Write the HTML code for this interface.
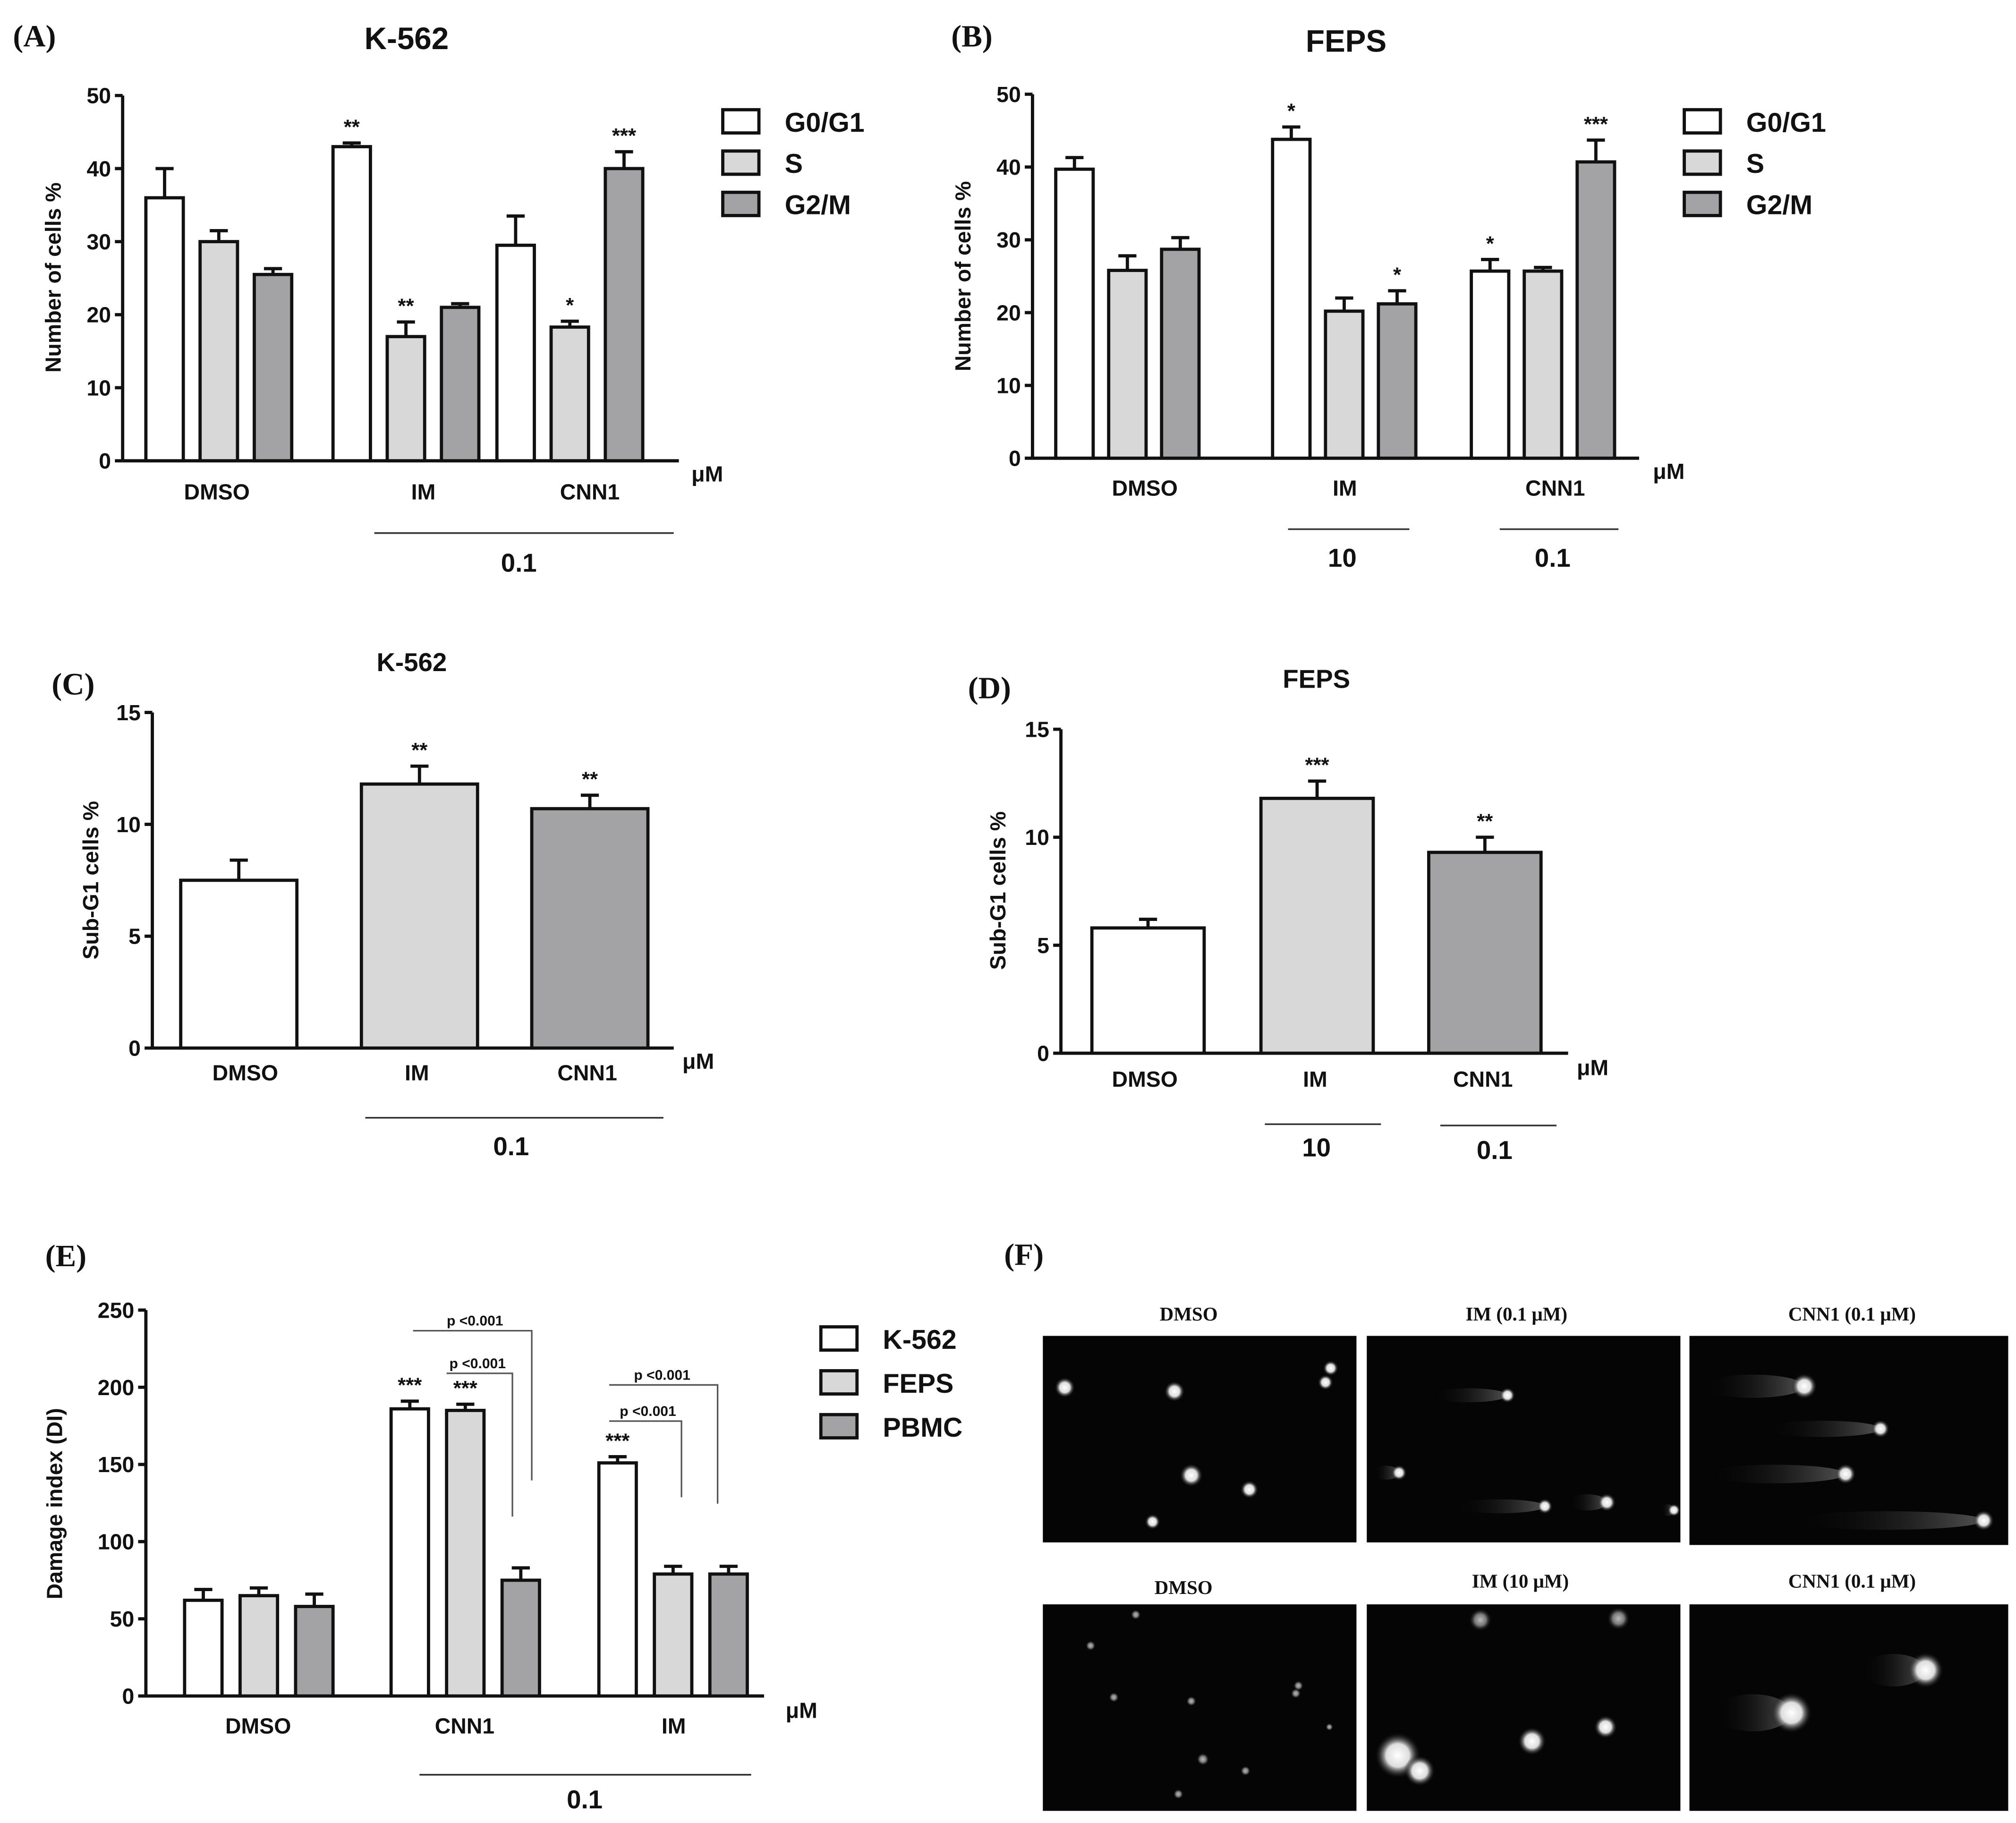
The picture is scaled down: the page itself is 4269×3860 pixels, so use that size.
<!DOCTYPE html>
<html><head><meta charset="utf-8"><style>
html,body{margin:0;padding:0;background:#fff;}
svg{display:block;}
text{font-family:"Liberation Sans",Arial,sans-serif;font-weight:bold;fill:#111;}
.serif{font-family:"Liberation Serif",serif;}
</style></head><body>
<svg id="fig" xmlns="http://www.w3.org/2000/svg" width="4269" height="3860" viewBox="0 0 1562 1412.4">
<defs>
<radialGradient id="dot"><stop offset="0" stop-color="#fff"/><stop offset="0.5" stop-color="#ddd"/><stop offset="1" stop-color="#000" stop-opacity="0"/></radialGradient>
<radialGradient id="dotdim"><stop offset="0" stop-color="#bbb"/><stop offset="0.5" stop-color="#777"/><stop offset="1" stop-color="#000" stop-opacity="0"/></radialGradient>
<linearGradient id="tail" x1="0" x2="1"><stop offset="0" stop-color="#000" stop-opacity="0"/><stop offset="1" stop-color="#666" stop-opacity="0.8"/></linearGradient>
</defs>
<g id="root"></g>
</svg>
<script>
// ---------- data ----------
const groupsA = ["DMSO","IM","CNN1"];
const seriesNames = ["G0/G1","S","G2/M"];
const valsA = [[36,30,25.5],[43,17,21],[29.5,18.3,40]];
const errA  = [[4,1.5,0.8],[0.5,2,0.5],[4,0.8,2.3]];
const starsA = [["","",""],["**","**",""],["","*","***"]];
const ticksAB = [0,10,20,30,40,50];

const groupsB = ["DMSO","IM","CNN1"];
const valsB = [[39.7,25.8,28.7],[43.8,20.2,21.2],[25.7,25.7,40.7]];
const errB  = [[1.6,2,1.6],[1.7,1.8,1.8],[1.6,0.5,3]];
const starsB = [["","",""],["*","","*"],["*","","***"]];

const catsC = ["DMSO","IM","CNN1"];
const valsC = [7.5,11.8,10.7];
const errC  = [0.9,0.8,0.6];
const starsC = ["","**","**"];
const ticksCD = [0,5,10,15];

const catsD = ["DMSO","IM","CNN1"];
const valsD = [5.8,11.8,9.3];
const errD  = [0.4,0.8,0.7];
const starsD = ["","***","**"];

const groupsE = ["DMSO","CNN1","IM"];
const seriesE = ["K-562","FEPS","PBMC"];
const valsE = [[62,65,58],[186,185,75],[151,79,79]];
const errE  = [[7,5,8],[5,4,8],[4,5,5]];
const starsE = [["","",""],["***","***",""],["***","",""]];
const ticksE = [0,50,100,150,200,250];

const fills = ["#ffffff","#d8d8d8","#a3a3a6"];
const NS="http://www.w3.org/2000/svg";
const root=document.getElementById('root');
function el(tag,attrs,parent,txt){const e=document.createElementNS(NS,tag);for(const k in attrs)e.setAttribute(k,attrs[k]);if(txt!==undefined)e.textContent=txt;(parent||root).appendChild(e);return e;}

function axis(g,x0,y0,yTop,xEnd,ticks,maxV,fs){
  const ys=v=>y0-(v/maxV)*(y0-yTop);
  const ax=el('line',{x1:x0,y1:y0,x2:x0,y2:yTop,stroke:'#111','stroke-width':2.5},g);
  
  
  const bx=el('line',{x1:x0,y1:y0,x2:xEnd,y2:y0,stroke:'#111','stroke-width':2.5},g);
  
  
  ticks.forEach(t=>{
    el('line',{x1:x0-6,y1:ys(t),x2:x0,y2:ys(t),stroke:'#111','stroke-width':2.5},g);
    const tl=el('text',{x:x0-9,y:ys(t)+6,'font-size':17,'text-anchor':'end'},g,String(t));
    
    
  });
  return ys;
}
function bar(g,x,w,v,e,ys,fill,star,name){
  const y0=ys(0),yt=ys(v),ye=ys(v+e);
  el('line',{x1:x+w/2,y1:yt,x2:x+w/2,y2:ye,stroke:'#111','stroke-width':2.5},g);
  el('line',{x1:x+w/2-7,y1:ye,x2:x+w/2+7,y2:ye,stroke:'#111','stroke-width':2.5},g);
  const r=el('rect',{x:x,y:yt,width:w,height:y0-yt,fill:fill,stroke:'#111','stroke-width':2.5},g);
  
  
  if(star){const s=el('text',{x:x+w/2,y:ye-7,'font-size':16,'font-weight':'normal','text-anchor':'middle'},g,star);
    
    }
}
function txt(x,y,s,fs,name,anchor,cls){const t=el('text',{x:x,y:y,'font-size':fs,'text-anchor':anchor||'middle'},root,s);
  if(cls)t.setAttribute('class',cls);
  
  return t;}
function hline(x1,x2,y){el('line',{x1:x1,y1:y,x2:x2,y2:y,stroke:'#333','stroke-width':1.3});}
function ytitle(x,y,s){const t=el('text',{x:0,y:0,'font-size':17,'text-anchor':'middle',transform:`translate(${x},${y}) rotate(-90)`},root,s);
  
  }
function legend(x,y0,dy,names){names.forEach((n,i)=>{
  const r=el('rect',{x:x,y:y0+i*dy,width:28,height:18,fill:fills[i],stroke:'#111','stroke-width':2.5});
  
  
  const t=el('text',{x:x+48,y:y0+i*dy+17,'font-size':21,'font-weight':'normal'},root,n);
  
  });}

function grouped(g,x0,y0,yTop,xEnd,ticks,maxV,groups,vals,errs,stars,starts,w,gap){
  const ys=axis(g,x0,y0,yTop,xEnd,ticks,maxV);
  groups.forEach((gn,i)=>vals[i].forEach((v,j)=>bar(g,starts[i]+j*gap,w,v,errs[i][j],ys,fills[j],stars[i][j],'bar-'+gn.toLowerCase()+'-'+j)));
}

// Panel A
let g=el('g',{});
grouped(g,95,357,74,526,ticksAB,50,groupsA,valsA,errA,starsA,[113,258,385],29,42);
txt(10,36,"(A)",24,'panel-label-a','start','serif');
txt(315,38,"K-562",24,'chart-title-a');
ytitle(47,215,"Number of cells  %");
[168,328,457].forEach((x,i)=>txt(x,387,groupsA[i],17,'x-category-label'));
txt(548,373,"μM",17,'unit-label');
hline(290,522,413);txt(402,443,"0.1",20,'dose-label');
legend(560,85,32,seriesNames);

// Panel B
g=el('g',{});
grouped(g,800,355,73,1270,ticksAB,50,groupsB,valsB,errB,starsB,[818,986,1140],29,41);
txt(737,36,"(B)",24,'panel-label-b','start','serif');
txt(1043,40,"FEPS",24,'chart-title-b');
ytitle(752,214,"Number of cells  %");
[887,1042,1205].forEach((x,i)=>txt(x,384,groupsB[i],17,'x-category-label'));
txt(1293,371,"μM",17,'unit-label');
hline(998,1092,410);txt(1040,439,"10",20,'dose-label');
hline(1162,1254,410);txt(1203,439,"0.1",20,'dose-label');
legend(1305,85,32,seriesNames);

// Panel C
g=el('g',{});
let ys=axis(g,118,812,552,522,ticksCD,15);
[140,280,412].forEach((x,i)=>bar(g,x,90,valsC[i],errC[i],ys,fills[i],starsC[i],'bar-'+catsC[i].toLowerCase()));
txt(40,538,"(C)",24,'panel-label-c','start','serif');
txt(319,520,"K-562",20,'chart-title-c');
ytitle(76,682,"Sub-G1 cells %");
[190,323,455].forEach((x,i)=>txt(x,837,catsC[i],17,'x-category-label'));
txt(541,828,"μM",17,'unit-label');
hline(283,514,866);txt(396,895,"0.1",20,'dose-label');

// Panel D
g=el('g',{});
ys=axis(g,822,816,565,1215,ticksCD,15);
[846,977,1107].forEach((x,i)=>bar(g,x,87,valsD[i],errD[i],ys,fills[i],starsD[i],'bar-'+catsD[i].toLowerCase()));
txt(750,541,"(D)",24,'panel-label-d','start','serif');
txt(1020,533,"FEPS",20,'chart-title-d');
ytitle(779,690,"Sub-G1 cells %");
[887,1019,1149].forEach((x,i)=>txt(x,842,catsD[i],17,'x-category-label'));
txt(1234,833,"μM",17,'unit-label');
hline(980,1070,871);txt(1020,896,"10",20,'dose-label');
hline(1116,1206,872);txt(1158,898,"0.1",20,'dose-label');

// Panel E
g=el('g',{});
grouped(g,113,1314,1015,592,ticksE,250,groupsE,valsE,errE,starsE,[143,303,464],29,43);
txt(35,981,"(E)",24,'panel-label-e','start','serif');
ytitle(48,1165,"Damage index (DI)");
[200,360,522].forEach((x,i)=>txt(x,1343,groupsE[i],17,'x-category-label'));
txt(621,1331,"μM",17,'unit-label');
hline(325,582,1375);txt(453,1401,"0.1",20,'dose-label');
legend(636,1028,34,seriesE);
function bracket(x1,x2,y,yd,label,lx){
  el('polyline',{points:`${x1},${y} ${x2},${y} ${x2},${yd}`,fill:'none',stroke:'#555','stroke-width':1.2});
  const t=el('text',{x:lx,y:y-4,'font-size':11,'font-weight':'normal','text-anchor':'middle'},root,label);
  
  
}
bracket(320,412,1031,1147,"p <0.001",368);
bracket(346,397,1064,1175,"p <0.001",370);
bracket(472,556,1073,1165,"p <0.001",513);
bracket(472,528,1101,1160,"p <0.001",502);

// Panel F
txt(778,980,"(F)",24,'panel-label-f','start','serif');
const imgs=[[808,1035,243,160,"DMSO",921,1023],[1059,1035,243,160,"IM (0.1 μM)",1175,1023],[1309,1035,247,162,"CNN1 (0.1 μM)",1435,1023],
[808,1243,243,160,"DMSO",917,1235],[1059,1243,243,160,"IM (10 μM)",1178,1230],[1309,1243,247,160,"CNN1 (0.1 μM)",1435,1230]];
imgs.forEach((m,i)=>{
  const r=el('rect',{x:m[0],y:m[1],width:m[2],height:m[3],fill:'#050505'});
  
  
  const t=el('text',{x:m[5],y:m[6],'font-size':15,'text-anchor':'middle',class:'serif'},root,m[4]);
  
  
});
function dot(x,y,r,dim){el('circle',{cx:x,cy:y,r:r,fill:dim?'url(#dotdim)':'url(#dot)'});}
function comet(x,y,r,len){el('ellipse',{cx:x-len/2,cy:y,rx:len/2,ry:r*0.9,fill:'url(#tail)'});dot(x,y,r);}
[[825,1075,8],[910,1078,8],[923,1143,9],[968,1154,7],[893,1179,6],[1027,1071,6],[1031,1060,6]].forEach(d=>dot(...d));
[[1168,1081,6,60],[1084,1141,6,20],[1197,1167,6,70],[1245,1164,7,30],[1297,1170,5,10]].forEach(d=>comet(...d));
[[1398,1074,10,80],[1457,1107,7,90],[1430,1142,8,110],[1537,1178,8,150]].forEach(d=>comet(...d));
[[845,1275,4,1],[880,1251,4,1],[863,1315,4,1],[923,1318,4,1],[1006,1306,4,1],[1030,1338,3,1],[932,1363,5,1],[965,1372,4,1],[913,1390,4,1],[1004,1312,4,1]].forEach(d=>dot(...d));
[[1147,1255,9,1],[1254,1254,9,1],[1187,1349,11],[1244,1338,9],[1083,1360,18],[1100,1372,12]].forEach(d=>dot(...d));
[[1388,1327,16,60],[1492,1294,14,50]].forEach(d=>comet(...d));
</script>
</body></html>
